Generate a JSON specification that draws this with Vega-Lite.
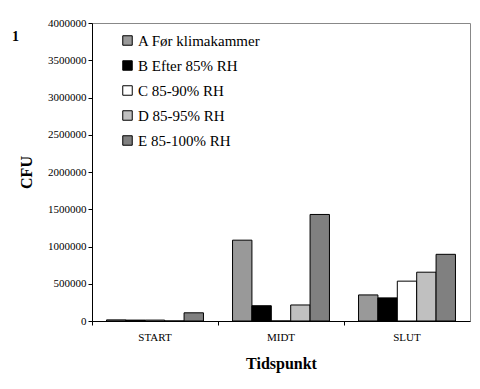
{
  "$schema": "https://vega.github.io/schema/vega-lite/v6.json",
  "width": 378,
  "height": 298,
  "autosize": {"type": "none"},
  "padding": {"left": 92, "top": 23, "right": 10, "bottom": 68},
  "background": "white",
  "title": {"text": "1", "anchor": "start", "frame": "group", "dx": -80, "dy": 27, "font": "Liberation Serif", "fontSize": 14, "fontWeight": "bold", "color": "black", "baseline": "top", "offset": 0},
  "data": {
    "values": [
      {"Tidspunkt": "START", "Gruppe": "A Før klimakammer", "CFU": 15000},
      {"Tidspunkt": "START", "Gruppe": "B Efter 85% RH", "CFU": 12000},
      {"Tidspunkt": "START", "Gruppe": "C 85-90% RH", "CFU": 12000},
      {"Tidspunkt": "START", "Gruppe": "D 85-95% RH", "CFU": 0},
      {"Tidspunkt": "START", "Gruppe": "E 85-100% RH", "CFU": 110000},
      {"Tidspunkt": "MIDT", "Gruppe": "A Før klimakammer", "CFU": 1085000},
      {"Tidspunkt": "MIDT", "Gruppe": "B Efter 85% RH", "CFU": 205000},
      {"Tidspunkt": "MIDT", "Gruppe": "C 85-90% RH", "CFU": 0},
      {"Tidspunkt": "MIDT", "Gruppe": "D 85-95% RH", "CFU": 215000},
      {"Tidspunkt": "MIDT", "Gruppe": "E 85-100% RH", "CFU": 1430000},
      {"Tidspunkt": "SLUT", "Gruppe": "A Før klimakammer", "CFU": 350000},
      {"Tidspunkt": "SLUT", "Gruppe": "B Efter 85% RH", "CFU": 310000},
      {"Tidspunkt": "SLUT", "Gruppe": "C 85-90% RH", "CFU": 535000},
      {"Tidspunkt": "SLUT", "Gruppe": "D 85-95% RH", "CFU": 655000},
      {"Tidspunkt": "SLUT", "Gruppe": "E 85-100% RH", "CFU": 895000}
    ]
  },
  "mark": {"type": "bar", "stroke": "black", "strokeWidth": 1},
  "encoding": {
    "x": {
      "field": "Tidspunkt", "type": "nominal", "sort": ["START", "MIDT", "SLUT"],
      "scale": {"paddingInner": 0, "paddingOuter": 0},
      "axis": {"title": "Tidspunkt", "labelAngle": 0, "bandPosition": 0, "labelPadding": 6, "titlePadding": 13,
               "titleFontSize": 16, "titleFontWeight": "bold", "labelFontSize": 11,
               "labelFont": "Liberation Serif", "titleFont": "Liberation Serif"}
    },
    "xOffset": {
      "field": "Gruppe", "type": "nominal",
      "scale": {"paddingInner": 0, "paddingOuter": 0.75}
    },
    "y": {
      "field": "CFU", "type": "quantitative",
      "scale": {"domain": [0, 4000000], "nice": false},
      "axis": {"title": "CFU", "values": [0, 500000, 1000000, 1500000, 2000000, 2500000, 3000000, 3500000, 4000000],
               "format": "d", "grid": false, "labelPadding": 2, "titlePadding": 13,
               "titleFontSize": 16, "titleFontWeight": "bold", "labelFontSize": 11,
               "labelFont": "Liberation Serif", "titleFont": "Liberation Serif"}
    },
    "fill": {
      "field": "Gruppe", "type": "nominal",
      "scale": {"domain": ["A Før klimakammer", "B Efter 85% RH", "C 85-90% RH", "D 85-95% RH", "E 85-100% RH"],
                "range": ["#999999", "#000000", "#ffffff", "#c0c0c0", "#808080"]},
      "legend": {"title": null, "orient": "none", "legendX": 28, "legendY": 10, "symbolType": "square",
                 "symbolSize": 90, "symbolStrokeColor": "black", "symbolStrokeWidth": 1, "labelFontSize": 15,
                 "labelFont": "Liberation Serif", "labelLimit": 300,
                 "labelOffset": 3, "rowPadding": 9, "labelColor": "black"}
    }
  },
  "config": {
    "font": "Liberation Serif",
    "view": {"stroke": "#888888", "strokeWidth": 1},
    "axis": {"domainColor": "black", "tickColor": "black", "labelColor": "black", "titleColor": "black", "tickSize": 4}
  }
}
